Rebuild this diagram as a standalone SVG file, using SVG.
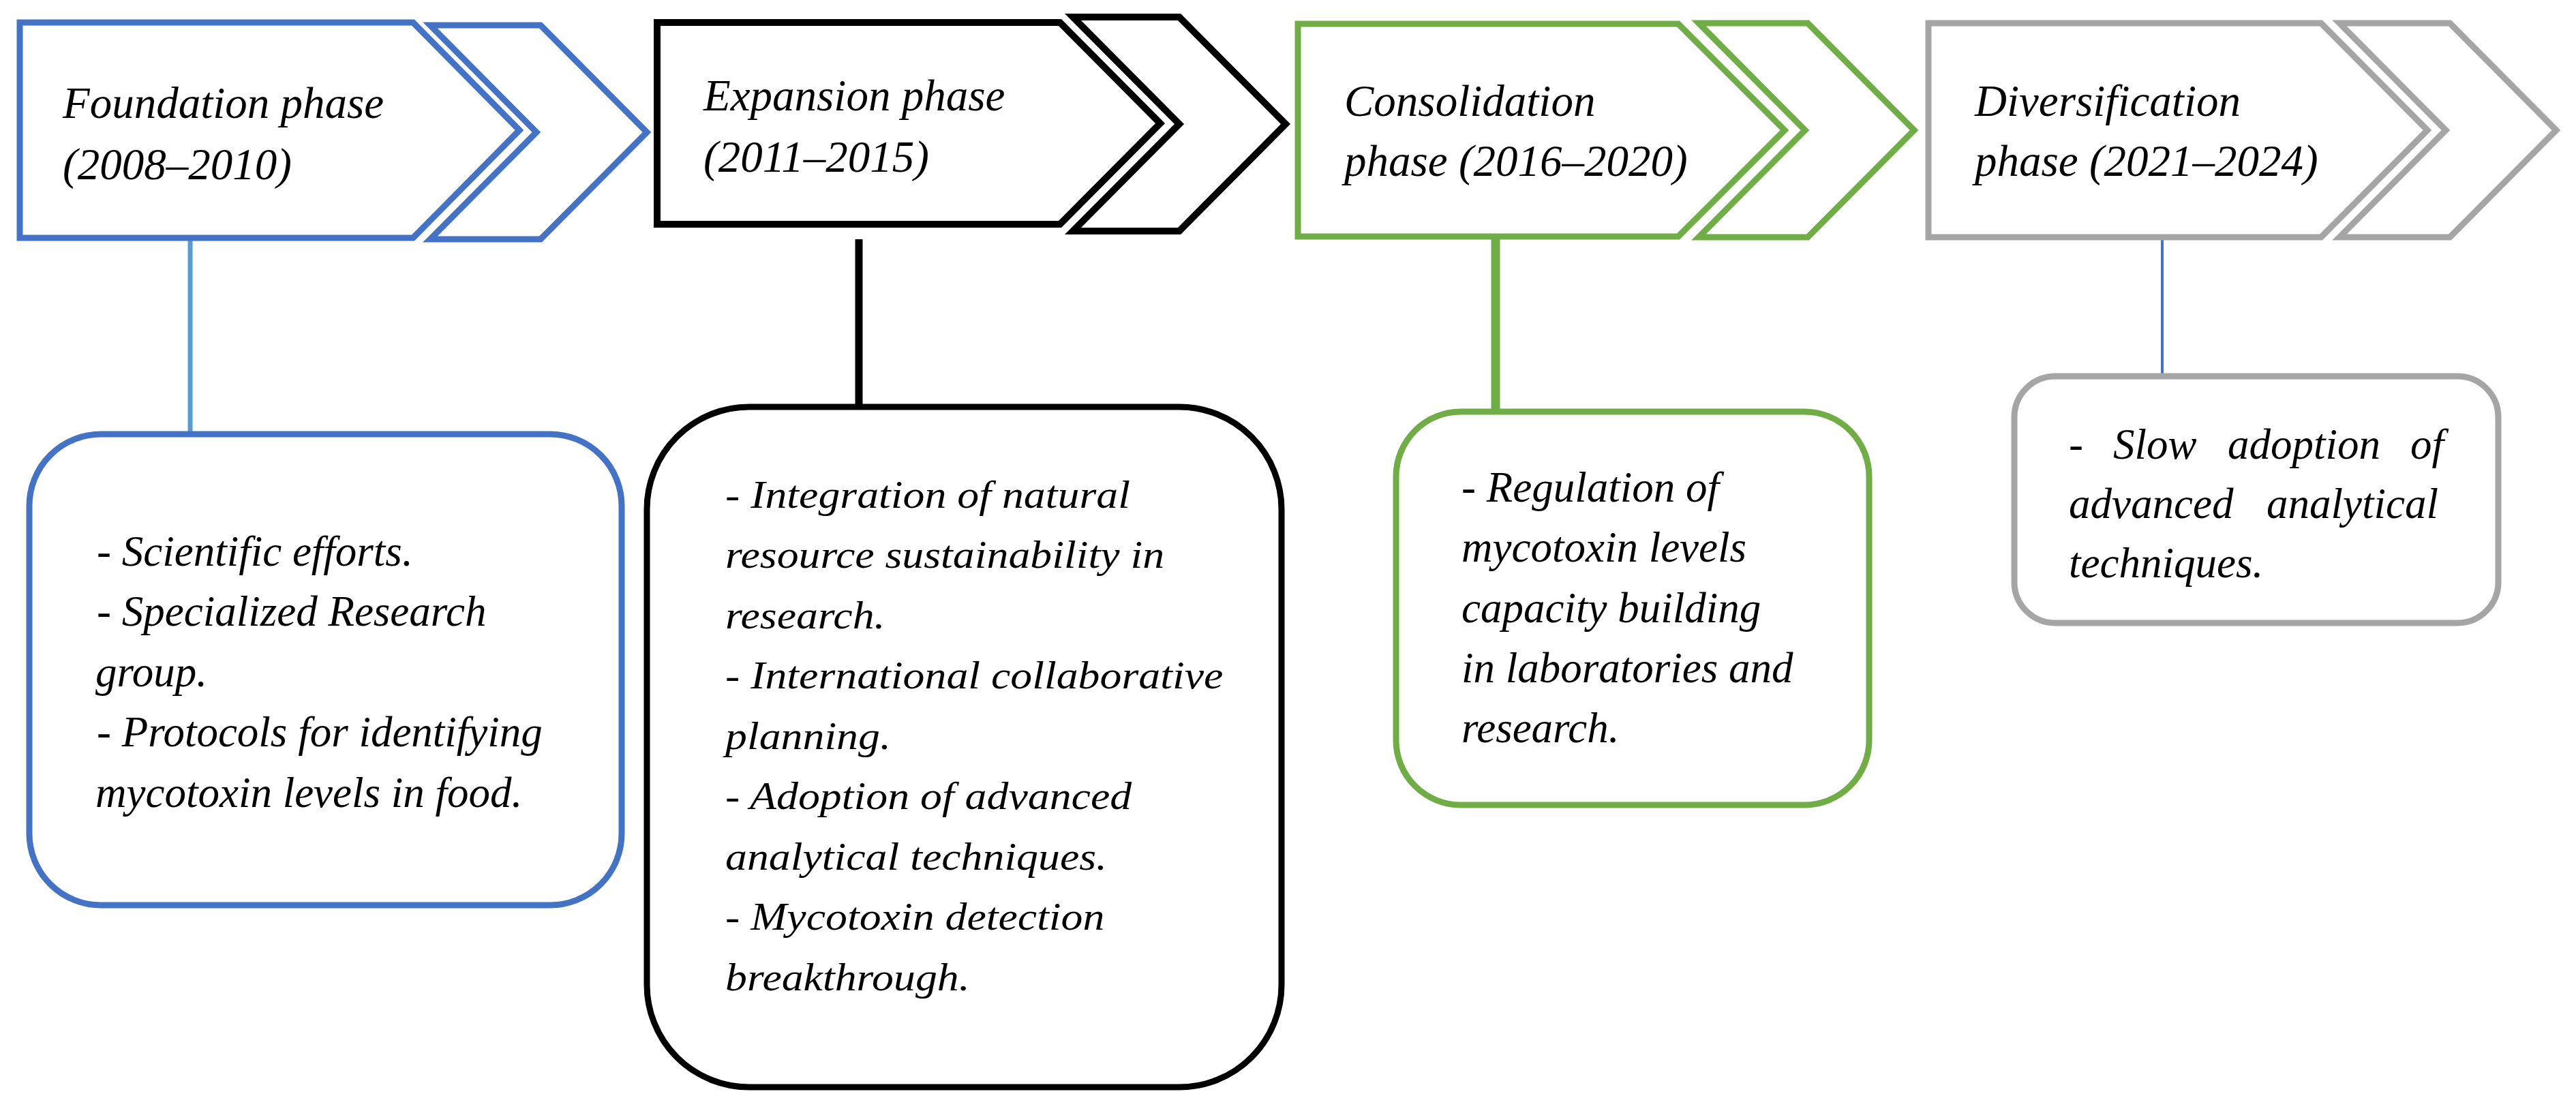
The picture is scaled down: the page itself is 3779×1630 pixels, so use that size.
<svg xmlns="http://www.w3.org/2000/svg" width="3779" height="1630" viewBox="0 0 3779 1630">
<style>
.t{font-family:"Liberation Serif","Times New Roman",serif;font-style:italic;fill:#000}
.h{font-size:65px}
.b{font-size:63px}
.k{font-size:57px}
.chev{fill:#fff;stroke-width:9;stroke-linejoin:miter}
.box{fill:#fff;stroke-width:9}
.blue{stroke:#4472C4}
.black{stroke:#000}
.green{stroke:#70AD47}
.gray{stroke:#A5A5A5}
</style>
<rect width="3779" height="1630" fill="#fff"/>
<g id="connectors">
<line x1="279" y1="349" x2="279" y2="637" stroke="#5B9BD5" stroke-width="7"/>
<line x1="1260" y1="351" x2="1260" y2="597" stroke="#000" stroke-width="11"/>
<line x1="2194" y1="346" x2="2194" y2="604" stroke="#70AD47" stroke-width="13"/>
<line x1="3172" y1="348" x2="3172" y2="552" stroke="#4472C4" stroke-width="4"/>
</g>
<g id="phase1">
<path class="chev blue" d="M29,33 L606,33 L762,191 L606,349 L29,349 Z"/>
<path class="chev blue" d="M631,37 L793,37 L949,194 L793,351 L631,351 L787,194 Z"/>
<text class="t h" x="92" y="173">Foundation phase</text>
<text class="t h" x="92" y="263">(2008–2010)</text>
</g>
<g id="phase2">
<path class="chev black" style="stroke-width:10" d="M964,33 L1555,33 L1702,181 L1555,329 L964,329 Z"/>
<path class="chev black" style="stroke-width:10" d="M1574,25 L1730,25 L1886,182 L1730,339 L1574,339 L1730,182 Z"/>
<text class="t h" x="1032" y="162">Expansion phase</text>
<text class="t h" x="1032" y="252">(2011–2015)</text>
</g>
<g id="phase3">
<path class="chev green" d="M1904,35 L2462,35 L2618,191 L2462,347 L1904,347 Z"/>
<path class="chev green" d="M2492,34 L2652,34 L2808,191 L2652,348 L2492,348 L2648,191 Z"/>
<text class="t h" x="1972" y="170">Consolidation</text>
<text class="t h" x="1972" y="258">phase (2016–2020)</text>
</g>
<g id="phase4">
<path class="chev gray" d="M2829,34 L3405,34 L3561,191 L3405,348 L2829,348 Z"/>
<path class="chev gray" d="M3432,34 L3594,34 L3750,191 L3594,348 L3432,348 L3588,191 Z"/>
<text class="t h" x="2897" y="170">Diversification</text>
<text class="t h" x="2897" y="258">phase (2021–2024)</text>
</g>
<g id="box1">
<rect class="box blue" x="43" y="637" width="869" height="691" rx="105" ry="105"/>
<text class="t b" x="142" y="830">- Scientific efforts.</text>
<text class="t b" x="142" y="918">- Specialized Research</text>
<text class="t b" x="140" y="1007">group.</text>
<text class="t b" x="142" y="1095">- Protocols for identifying</text>
<text class="t b" x="140" y="1184">mycotoxin levels in food.</text>
</g>
<g id="box2">
<rect class="box black" x="949" y="597" width="931" height="998" rx="150" ry="150"/>
<g transform="translate(1064,0) scale(1.12,1)">
<text class="t k" x="0" y="745">- Integration of natural</text>
<text class="t k" x="0" y="833">resource sustainability in</text>
<text class="t k" x="0" y="922">research.</text>
<text class="t k" x="0" y="1010">- International collaborative</text>
<text class="t k" x="0" y="1099">planning.</text>
<text class="t k" x="0" y="1187">- Adoption of advanced</text>
<text class="t k" x="0" y="1276">analytical techniques.</text>
<text class="t k" x="0" y="1364">- Mycotoxin detection</text>
<text class="t k" x="0" y="1453">breakthrough.</text>
</g>
</g>
<g id="box3">
<rect class="box green" x="2048" y="604" width="694" height="577" rx="95" ry="95"/>
<text class="t b" x="2144" y="736">- Regulation of</text>
<text class="t b" x="2144" y="824">mycotoxin levels</text>
<text class="t b" x="2144" y="913">capacity building</text>
<text class="t b" x="2144" y="1001">in laboratories and</text>
<text class="t b" x="2144" y="1089">research.</text>
</g>
<g id="box4">
<rect class="box gray" x="2955" y="552" width="710" height="362" rx="60" ry="60"/>
<text class="t b" y="673"><tspan x="3035">-</tspan><tspan x="3100">Slow</tspan><tspan x="3268">adoption</tspan><tspan x="3536">of</tspan></text>
<text class="t b" y="760"><tspan x="3035">advanced</tspan><tspan x="3325">analytical</tspan></text>
<text class="t b" x="3035" y="847">techniques.</text>
</g>
</svg>
